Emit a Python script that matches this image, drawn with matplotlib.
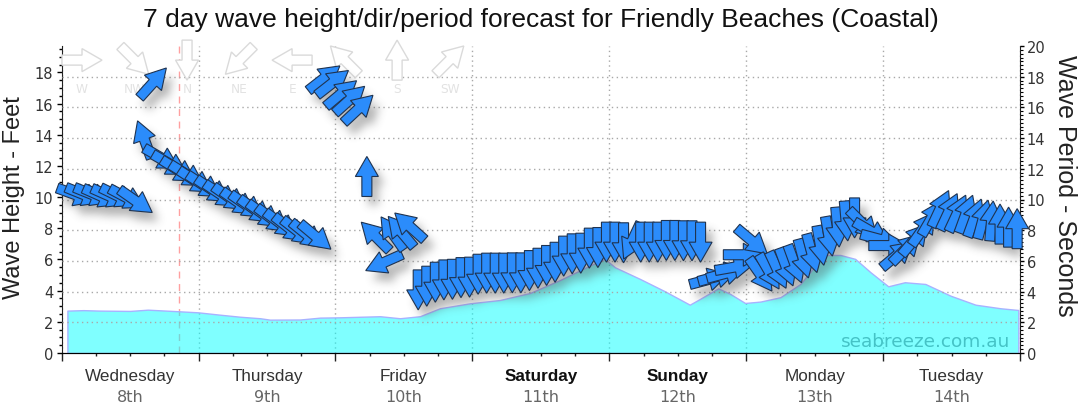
import numpy as np
import matplotlib
matplotlib.use("Agg")
import matplotlib.pyplot as plt
from matplotlib.patches import Polygon
from matplotlib.path import Path
from matplotlib.transforms import Affine2D, ScaledTranslation, blended_transform_factory

# ---------------- data ----------------
days = ["Wednesday", "Thursday", "Friday", "Saturday", "Sunday", "Monday", "Tuesday"]
dates = ["8th", "9th", "10th", "11th", "12th", "13th", "14th"]
weekend = [False, False, False, True, True, False, False]

# wave height (feet), hours from Wednesday 00:00
height_hours = [1.0, 3.8, 6.7, 12.0, 15.1, 20.4, 23.9, 27.7, 31.2, 34.8, 36.5, 41.8,
                45.3, 48.8, 55.8, 59.3, 62.8, 66.3, 71.6, 76.8, 82.1, 87.4, 92.6, 95.2,
                97.0, 101.4, 105.8, 110.1, 111.9, 115.1, 117.2, 119.8, 122.5, 126.0,
                129.5, 132.1, 133.8, 136.5, 139.1, 141.8, 144.9, 147.8, 151.4, 155.8,
                160.2, 164.6, 167.7]
height_ft = [2.72, 2.75, 2.72, 2.70, 2.78, 2.68, 2.61, 2.46, 2.33, 2.23, 2.14, 2.15,
             2.27, 2.29, 2.36, 2.23, 2.36, 2.87, 3.19, 3.40, 3.85, 4.69, 5.61, 6.04,
             5.50, 4.75, 3.95, 3.10, 3.47, 4.15, 3.79, 3.21, 3.30, 3.58,
             4.43, 5.60, 6.29, 6.29, 6.04, 5.18, 4.28, 4.54, 4.43, 3.68,
             3.10, 2.87, 2.76]

# swell arrows: one every 1.5 h starting at 02:30 Wednesday
ARROW_START, ARROW_STEP = 2.5, 1.5
arrow_period = [
    10.3, 10.3, 10.3, 10.2, 10.2, 10.2, 10.1, 9.9,
    13.9,
    17.6,
    12.7, 12.3, 11.9, 11.6, 11.2, 10.9, 10.6, 10.3, 10.1, 9.8, 9.6, 9.3, 9.0, 8.7,
    8.4, 8.1, 7.9, 7.7, 7.6,
    17.9, 17.6, 16.9, 16.5, 15.9,
    11.5,
    7.6, 5.9, 7.8, 7.9, 8.25,
    4.11, 4.35, 4.61, 4.76, 4.80, 4.91, 4.94, 5.13, 5.20, 5.20, 5.20, 5.22, 5.22,
    5.37, 5.52, 5.70, 5.91, 6.31, 6.46, 6.50, 6.83, 6.87, 7.22, 7.22, 7.18, 7.30,
    7.22, 7.22, 7.22, 7.33, 7.33, 7.31, 7.31, 7.22,
    4.8, 5.0, 5.2, 5.6, 6.4, 7.3,
    5.1, 5.3, 5.4, 5.6, 5.8, 6.15, 6.5, 7.0, 7.6, 8.2, 8.6, 8.8,
    8.4, 7.9, 7.4, 7.0,
    6.4, 6.8, 7.4, 8.1, 8.8, 9.4, 9.2, 9.1, 9.05, 8.8, 8.7, 8.6, 8.4, 8.2, 8.1,
]
# direction the swell comes from (compass degrees)
arrow_dir = [
    290, 292, 292, 294, 294, 296, 298, 305,
    160,
    222,
    300, 300, 302, 302, 303, 303, 304, 304, 305, 305, 305, 306, 306, 307, 307,
    308, 308, 309, 310,
    232, 232, 230, 228, 227,
    180,
    135, 66, 145, 140, 132,
    0, 0, 0, 0, 0, 0, 0, 0, 0, 0, 0, 0, 0, 0, 0, 0, 0, 0, 0, 0, 0, 0, 0, 0, 0, 25,
    0, 0, 0, 0, 0, 0, 0, 0,
    255, 255, 255, 260, 270, 310,
    325, 330, 335, 340, 340, 345, 345, 350, 350, 355, 355, 0,
    315, 300, 285, 270,
    230, 225, 220, 215, 210, 205, 205, 205, 200, 200, 195, 185, 180, 180, 180,
]
now_hour = 20.5

compass = ["W", "NW", "N", "NE", "E", "SE", "S", "SW"]
compass_dir = [270, 315, 0, 45, 90, 135, 180, 225]

height_ticks = list(range(0, 19, 2))
period_ticks = list(range(0, 21, 2))

# block arrow in pixels, pointing along +x, centred on the data point
ARROW = np.array([[-20, -5], [0, -5], [0, -11.5], [20, 0], [0, 11.5], [0, 5], [-20, 5]])
BLUE = "#2b8cfb"
EDGE = "#1f3350"


def heading(d):
    """compass 'from' direction -> screen angle the arrow points to"""
    return -90 - d


fig = plt.figure(figsize=(10.8, 4.14), dpi=100)
ax = fig.add_axes([61.7 / 1080, 60 / 414, 958.3 / 1080, 307 / 414])
ax2 = ax.twinx()

ax.set_xlim(0, 168)
ax.set_ylim(0, 19.7)
ax2.set_ylim(0, 20)

# wave height area
ax.fill_between(height_hours, height_ft, 0, facecolor=(0, 1, 1, 0.5),
                edgecolor="#a8b2ff", lw=1, zorder=2)
ax.axvline(now_hour, color="#ffa0a0", ls=(0, (5, 4)), lw=1, zorder=1.5)

# grid
ax.set_axisbelow(True)
ax.set_xticks(np.arange(0, 169, 24))
ax.set_xticks(np.arange(0, 169, 6), minor=True)
ax.grid(axis="x", which="major", color="#a8a8a8", ls=(0, (1, 2.5)), lw=1)
for v in period_ticks[1:-1]:
    ax2.axhline(v, color="#a8a8a8", ls=(0, (1, 2.5)), lw=1, zorder=0.8)

# axes styling
for a in (ax, ax2):
    a.spines["top"].set_visible(False)
ax.spines["right"].set_visible(False)
ax2.spines["left"].set_visible(False)
ax.spines["left"].set_color("#222222")
ax.spines["bottom"].set_color("#1c2340")
ax2.spines["right"].set_color("#222222")

ax.tick_params(axis="x", which="major", length=5.8, width=1, color="#222222",
               labelbottom=False)
ax.tick_params(axis="x", which="minor", length=2.2, width=1, color="#222222")
ax.set_yticks(height_ticks)
ax.set_yticks(np.arange(0, 19.6, 0.5), minor=True)
ax.tick_params(axis="y", which="major", length=3.6, width=1, labelsize=10.5,
               labelcolor="#333333", pad=2.5)
ax.tick_params(axis="y", which="minor", length=2.2, width=1)
ax2.set_yticks(period_ticks)
ax2.set_yticks(np.arange(0, 20.01, 0.25), minor=True)
ax2.tick_params(axis="y", which="major", length=3.2, width=1, labelsize=10.5,
                labelcolor="#333333", pad=1.5)
ax2.tick_params(axis="y", which="minor", length=1.8, width=0.8)

# day labels
tr_days = blended_transform_factory(ax.transData, ax.transAxes)
for i, (d, dt) in enumerate(zip(days, dates)):
    ax.text(12 + 24 * i, -0.072, d, transform=tr_days, ha="center", va="center",
            family="Liberation Sans", fontsize=12.3,
            fontweight="bold" if weekend[i] else "normal",
            color="#111111" if weekend[i] else "#333333")
    ax.text(12 + 24 * i, -0.142, dt, transform=tr_days, ha="center", va="center",
            family="DejaVu Sans", fontsize=11.5, color="#666666")

fig.text(0.501, 0.952, "7 day wave height/dir/period forecast for Friendly Beaches (Coastal)",
         ha="center", va="center", family="Liberation Sans", fontsize=19, color="#111111")
fig.text(0.013, 0.523, "Wave Height - Feet", rotation=90, ha="center", va="center",
         family="Liberation Sans", fontsize=17, color="#222222")
fig.text(0.986, 0.55, "Wave Period - Seconds", rotation=270, ha="center", va="center",
         family="Liberation Sans", fontsize=18, color="#222222")

ax2.text(0.9896, 0.039, "seabreeze.com.au", transform=ax2.transAxes, ha="right",
         va="center", family="DejaVu Sans", fontsize=13.3, color="#45c3c6", zorder=1.2)

# compass key
for i, (lab, d) in enumerate(zip(compass, compass_dir)):
    xf = 0.0212 + i * 0.0548
    t = Affine2D().rotate_deg(heading(d)) + ScaledTranslation(xf, 0.954, ax2.transAxes)
    ax2.add_patch(Polygon(ARROW, closed=True, transform=t, facecolor="white",
                          edgecolor="#dadada", lw=1, zorder=1.1, clip_on=False))
    ax2.text(xf, 0.862, lab, transform=ax2.transAxes, ha="center", va="center",
             family="DejaVu Sans", fontsize=8.7, color="#e2e2e2", zorder=1.1)

# swell arrows
arrow_tr = []
for k, (p, d) in enumerate(zip(arrow_period, arrow_dir)):
    h = ARROW_START + ARROW_STEP * k
    t = Affine2D().rotate_deg(heading(d)) + ScaledTranslation(h, p, ax2.transData)
    arrow_tr.append(t)
    ax2.add_patch(Polygon(ARROW, closed=True, transform=t, facecolor=BLUE,
                          edgecolor=EDGE, lw=0.8, zorder=3, clip_on=False))

# soft drop shadow, rasterised in pixel space and blurred
bb = ax2.bbox
W, H = int(round(bb.width)), int(round(bb.height))
mask = np.zeros((H, W))
for t in arrow_tr:
    verts = t.transform(ARROW) + np.array([6.0, -9.0]) - np.array([bb.x0, bb.y0])
    x_lo, y_lo = np.floor(verts.min(axis=0)).astype(int)
    x_hi, y_hi = np.ceil(verts.max(axis=0)).astype(int)
    x_lo, y_lo = max(x_lo, 0), max(y_lo, 0)
    x_hi, y_hi = min(x_hi, W), min(y_hi, H)
    if x_hi <= x_lo or y_hi <= y_lo:
        continue
    gx, gy = np.meshgrid(np.arange(x_lo, x_hi) + 0.5, np.arange(y_lo, y_hi) + 0.5)
    inside = Path(verts).contains_points(np.column_stack([gx.ravel(), gy.ravel()]))
    mask[y_lo:y_hi, x_lo:x_hi][inside.reshape(gx.shape)] = 1.0

r, sigma = 12, 4.5
kern = np.exp(-0.5 * (np.arange(-r, r + 1) / sigma) ** 2)
kern /= kern.sum()
pad = np.pad(mask, ((0, 0), (r, r)))
blur = sum(kern[i] * pad[:, i:i + W] for i in range(2 * r + 1))
pad = np.pad(blur, ((r, r), (0, 0)))
blur = sum(kern[i] * pad[i:i + H, :] for i in range(2 * r + 1))

shadow = np.zeros((H, W, 4))
shadow[..., :3] = 0.3
shadow[..., 3] = np.clip(blur, 0, 1) * 0.42
ax2.imshow(shadow, extent=(0, 168, 0, 20), origin="lower", aspect="auto",
           interpolation="bilinear", zorder=1.5)
ax2.set_xlim(0, 168)
ax2.set_ylim(0, 20)

fig.savefig("out.png", dpi=100)
